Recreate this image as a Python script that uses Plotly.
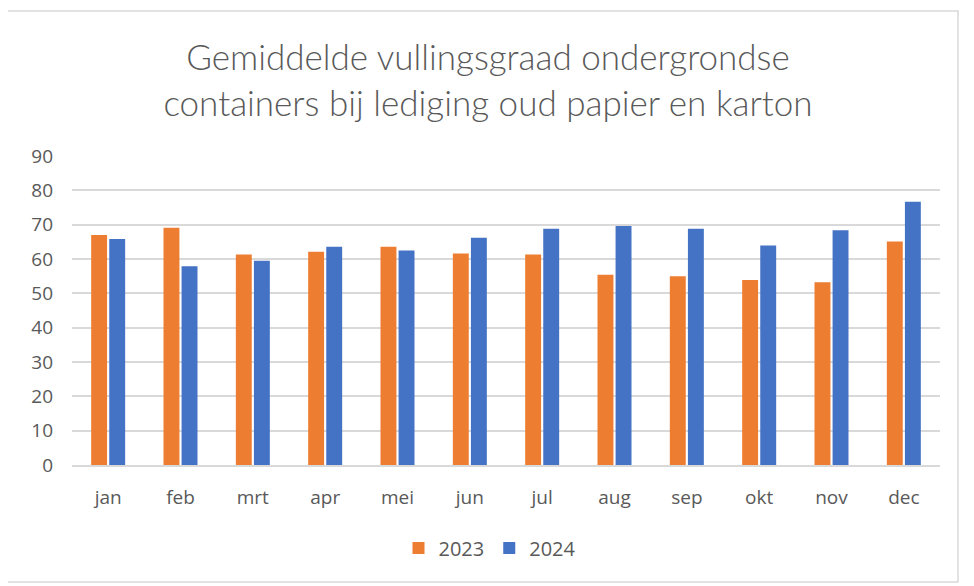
import plotly.graph_objects as go

months = ["jan", "feb", "mrt", "apr", "mei", "jun", "jul", "aug", "sep", "okt", "nov", "dec"]
v2023 = [67.0, 69.1, 61.3, 62.1, 63.6, 61.6, 61.3, 55.4, 55.0, 53.9, 53.2, 65.1]
v2024 = [65.8, 57.9, 59.5, 63.6, 62.5, 66.2, 68.8, 69.6, 68.8, 63.9, 68.4, 76.7]
yticks = [0, 10, 20, 30, 40, 50, 60, 70, 80, 90]

title_fam = "Lato, 'Open Sans', sans-serif"
tick_fam = "'Open Sans', 'Noto Sans', sans-serif"
grey = "#595959"

# page body has an 8px margin: compensate so plot area lands at x 72..940, y 156..465
OFF = 8
W, H = 974 - OFF, 586 - OFF
L, T, R, B = 72 - OFF, 156 - OFF, 34, 121
PW, PH = W - L - R, H - T - B

fig = go.Figure()
fig.add_trace(go.Bar(x=months, y=v2023, name="2023", marker=dict(color="#ED7D31", line=dict(width=0))))
fig.add_trace(go.Bar(x=months, y=v2024, name="2024", marker=dict(color="#4472C4", line=dict(width=0))))

fig.update_layout(
    width=W, height=H,
    margin=dict(l=L, r=R, t=T, b=B),
    paper_bgcolor="white", plot_bgcolor="white",
    barmode="group", bargap=0.5, bargroupgap=0.12,
    font=dict(family=tick_fam, color=grey, size=19),
    title=dict(
        text="Gemiddelde vullingsgraad ondergrondse<br>containers bij lediging oud papier en karton",
        x=(488 - OFF) / W, xanchor="center", y=1 - (70 - OFF) / H, yanchor="middle",
        font=dict(family=title_fam, size=35, color=grey, weight=300),
    ),
    legend=dict(orientation="h", x=(490 - 72) / PW, xanchor="center",
                y=-(548 - 465) / PH, yanchor="middle",
                font=dict(size=20, color=grey, family=tick_fam), traceorder="normal"),
    xaxis=dict(showgrid=False, showline=True, linecolor="#d9d9d9", linewidth=1.5,
               ticks="", ticklabelstandoff=14, tickfont=dict(size=19, color=grey)),
    yaxis=dict(range=[0, 90], tickvals=yticks, showgrid=True, gridcolor="#d9d9d9", gridwidth=1.5,
               zeroline=False, showline=False, ticks="", ticklabelstandoff=18,
               tickfont=dict(size=19, color=grey)),
    shapes=[dict(type="rect", xref="paper", yref="paper",
                 x0=(4 - 72) / PW, x1=(958 - 72) / PW,
                 y0=(465 - 582) / PH, y1=(465 - 11) / PH,
                 line=dict(color="#d9d9d9", width=1.5), fillcolor="rgba(0,0,0,0)", layer="below")],
)

fig.write_html("out.html")
